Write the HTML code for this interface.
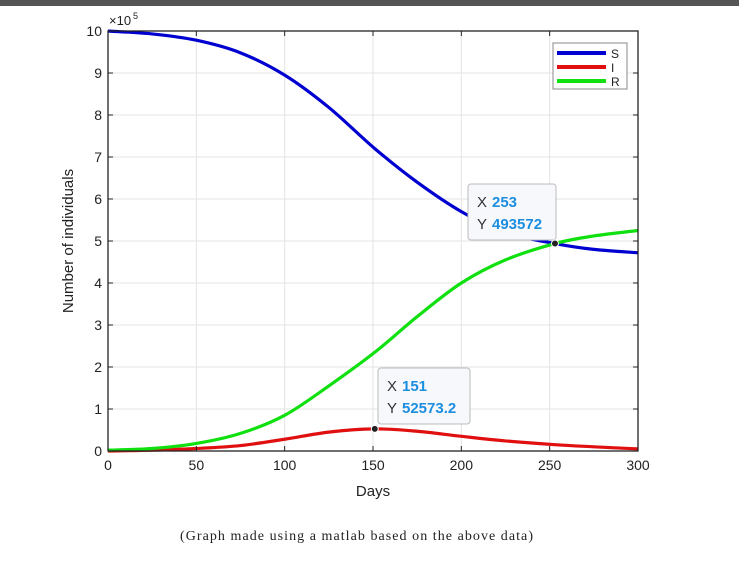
<!DOCTYPE html>
<html><head><meta charset="utf-8"><style>
body{margin:0;background:#fff;width:739px;height:573px;overflow:hidden;font-family:"Liberation Sans",Arial,sans-serif}
</style></head><body>
<div style="position:absolute;left:0;top:0;width:739px;height:6px;background:#555"></div>
<svg id="chart" width="739" height="573" style="position:absolute;left:0;top:0">
<g id="grid"></g><g id="series"></g><g id="axes"></g><g id="tips"></g>
</svg>
<script>
const days=[0,25,50,75,100,125,151,175,200,225,253,275,300];
const sVals=[10,9.93,9.78,9.48,8.95,8.18,7.2,6.4,5.7,5.2,4.94,4.8,4.72];
const iVals=[0,0.02,0.06,0.13,0.28,0.45,0.526,0.47,0.35,0.24,0.15,0.1,0.05];
const rVals=[0.02,0.06,0.18,0.42,0.85,1.55,2.35,3.2,4.0,4.55,4.94,5.12,5.25];
const xTicks=[0,50,100,150,200,250,300];
const yTicks=[0,1,2,3,4,5,6,7,8,9,10];
const L=108,R=638,T=31,B=451;
const xs=v=>L+(v/300)*(R-L), ys=v=>B-(v/10)*(B-T);
const NS='http://www.w3.org/2000/svg';
function mk(tag,attrs,parent,txt){const e=document.createElementNS(NS,tag);for(const k in attrs)e.setAttribute(k,attrs[k]);if(txt!=null)e.textContent=txt;document.getElementById(parent).appendChild(e);return e;}
xTicks.forEach(t=>{
 const g=mk('line',{x1:xs(t),x2:xs(t),y1:T,y2:B,stroke:'#e3e3e3'},'grid');
 
 mk('line',{x1:xs(t),x2:xs(t),y1:B,y2:B-5,stroke:'#222'},'axes');
 mk('line',{x1:xs(t),x2:xs(t),y1:T,y2:T+5,stroke:'#222'},'axes');
 const l=mk('text',{x:xs(t),y:B+19,'text-anchor':'middle','font-size':14,fill:'#222'},'axes',t);
 
});
yTicks.forEach(t=>{
 const g=mk('line',{x1:L,x2:R,y1:ys(t),y2:ys(t),stroke:'#e3e3e3'},'grid');
 
 mk('line',{x1:L,x2:L+5,y1:ys(t),y2:ys(t),stroke:'#222'},'axes');
 mk('line',{x1:R,x2:R-5,y1:ys(t),y2:ys(t),stroke:'#222'},'axes');
 const l=mk('text',{x:L-6,y:ys(t)+5,'text-anchor':'end','font-size':14,fill:'#222'},'axes',t);
 
});
const box=mk('rect',{x:L,y:T,width:R-L,height:B-T,fill:'none',stroke:'#222','stroke-width':1.3},'axes');

function path(vals){
 const p=days.map((d,i)=>[xs(d),ys(vals[i])]);let s='M'+p[0][0]+','+p[0][1];
 for(let i=0;i<p.length-1;i++){const p0=p[Math.max(0,i-1)],p1=p[i],p2=p[i+1],p3=p[Math.min(p.length-1,i+2)];
  s+=' C'+(p1[0]+(p2[0]-p0[0])/6)+','+(p1[1]+(p2[1]-p0[1])/6)+' '+(p2[0]-(p3[0]-p1[0])/6)+','+(p2[1]-(p3[1]-p1[1])/6)+' '+p2[0]+','+p2[1];}
 return s;}
const sP=mk('path',{d:path(sVals),fill:'none',stroke:'#0000d0','stroke-width':3.2},'series');

const iP=mk('path',{d:path(iVals),fill:'none',stroke:'#e01010','stroke-width':3.2},'series');

const rP=mk('path',{d:path(rVals),fill:'none',stroke:'#10e010','stroke-width':3.2},'series');

const ex=mk('text',{x:L+1,y:T-6,'font-size':13,fill:'#222'},'axes','×10');

mk('text',{x:L+25,y:T-12,'font-size':9,fill:'#222'},'axes','5');
const xt=mk('text',{x:(L+R)/2,y:B+45,'text-anchor':'middle','font-size':15,fill:'#222'},'axes','Days');

const yt=mk('text',{x:73,y:(T+B)/2,'text-anchor':'middle','font-size':15,fill:'#222',transform:'rotate(-90 73 '+((T+B)/2)+')'},'axes','Number of individuals');

const lg=mk('rect',{x:553,y:43,width:74,height:46,fill:'#fff',stroke:'#888'},'axes');

[['S','#0000d0'],['I','#e01010'],['R','#10e010']].forEach((e,k)=>{
 const y=53+k*14;
 const ln=mk('line',{x1:557,x2:606,y1:y,y2:y,stroke:e[1],'stroke-width':4},'axes');
 
 mk('text',{x:611,y:y+5,'font-size':12,fill:'#222'},'axes',e[0]);
});
function tip(dx,dy,bx,by,w,xv,yv,name){
 const r=mk('rect',{x:bx,y:by,width:w,height:56,rx:3,fill:'#f7f8fc',stroke:'#bbb'},'tips');
 
 mk('text',{x:bx+9,y:by+23,'font-size':15,fill:'#333'},'tips','X ');
 mk('text',{x:bx+24,y:by+23,'font-size':15,'font-weight':'bold',fill:'#1c8ee0'},'tips',xv);
 mk('text',{x:bx+9,y:by+45,'font-size':15,fill:'#333'},'tips','Y ');
 mk('text',{x:bx+24,y:by+45,'font-size':15,'font-weight':'bold',fill:'#1c8ee0'},'tips',yv);
 const c=mk('circle',{cx:xs(dx),cy:ys(dy),r:3.5,fill:'#222',stroke:'#fff','stroke-width':1},'tips');
 
}
tip(days[10],sVals[10],468,184,88,'253','493572','datatip-s');
tip(days[6],iVals[6],378,368,92,'151','52573.2','datatip-i');
const cap=mk('text',{x:180,y:540,'font-size':14,fill:'#222','font-family':'Liberation Serif,serif',textLength:353,lengthAdjust:'spacing'},'axes','(Graph made using a matlab based on the above data)');

</script>
</body></html>
